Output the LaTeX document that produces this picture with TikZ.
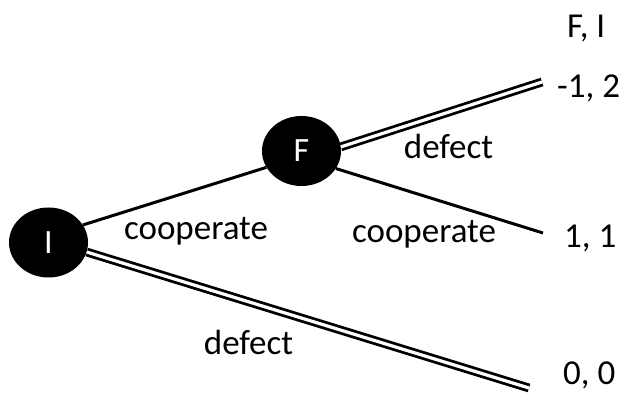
\documentclass[tikz,border=0pt]{standalone}
\usepackage{fontspec}
\setmainfont{Carlito}
\usetikzlibrary{shapes.geometric}
\begin{document}
\begin{tikzpicture}[x=1pt,y=-1pt,
  player/.style={ellipse, fill=black, text=white, minimum width=79pt, minimum height=70pt, inner sep=0pt, font=\fontsize{34}{40}\selectfont},
  single/.style={line width=3pt},
  twin/.style={double, line width=2.8pt, double distance=3.2pt},
  lbl/.style={anchor=base, inner sep=0pt, font=\fontsize{35}{42}\selectfont},
  pay/.style={anchor=base west, inner sep=0pt, font=\fontsize{35}{42}\selectfont}]
\useasboundingbox (0,0) rectangle (625,395);
\node[player] (I) at (48.5,242.5) {I};
\node[player] (F) at (301.5,151) {F};
\coordinate (e1) at (542,82);
\coordinate (e2) at (543,233);
\coordinate (e3) at (529,388);
\draw[single] (I.27) -- (F.205);
\draw[twin] (F.6) -- (e1);
\draw[single] (F.-27) -- (e2);
\draw[twin] (I.-14) -- (e3);
\node[lbl] (lc1) at (196,240) {cooperate};
\node[lbl] (lc2) at (424,243) {cooperate};
\node[lbl] (ld1) at (448.5,159) {defect};
\node[lbl] (ld2) at (248.5,355) {defect};
\node[pay] (hdr) at (567,38) {F, I};
\node[pay] (p1) at (557,98) {-1, 2};
\node[pay] (p2) at (564,248) {1, 1};
\node[pay] (p3) at (563,385) {0, 0};
\end{tikzpicture}
\end{document}
